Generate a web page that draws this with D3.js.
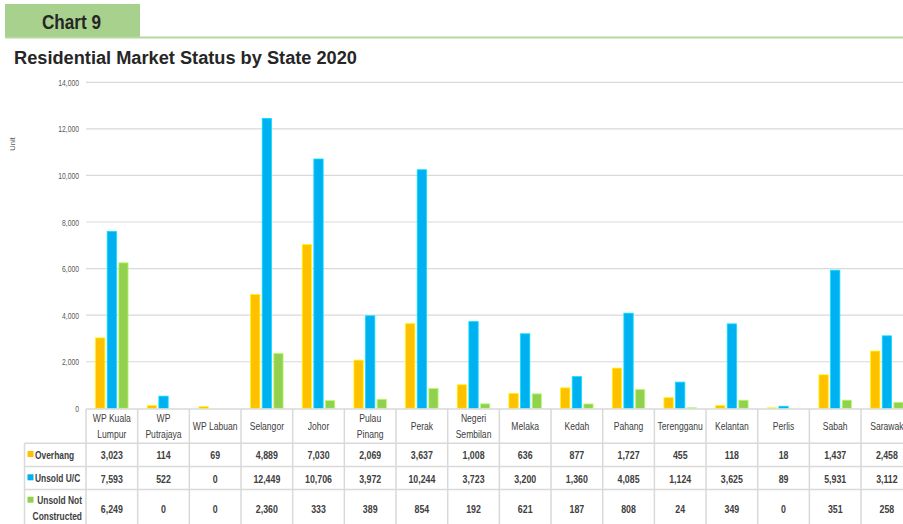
<!DOCTYPE html>
<html>
<head>
<meta charset="utf-8">
<script src="https://cdn.jsdelivr.net/npm/d3@7"></script>
<style>
  html, body { margin: 0; padding: 0; background: #fff; }
  svg { display: block; }
  text { font-family: "Liberation Sans", Arial, sans-serif; }
</style>
</head>
<body>
<svg id="chart" width="903" height="524"></svg>
<script>
// Residential market status by state, 2020 (units)
const states = ["WP Kuala Lumpur", "WP Putrajaya", "WP Labuan", "Selangor", "Johor", "Pulau Pinang",
  "Perak", "Negeri Sembilan", "Melaka", "Kedah", "Pahang", "Terengganu", "Kelantan", "Perlis", "Sabah", "Sarawak"];
const stateLines = [["WP Kuala", "Lumpur"], ["WP", "Putrajaya"], ["WP Labuan"], ["Selangor"], ["Johor"],
  ["Pulau", "Pinang"], ["Perak"], ["Negeri", "Sembilan"], ["Melaka"], ["Kedah"], ["Pahang"], ["Terengganu"],
  ["Kelantan"], ["Perlis"], ["Sabah"], ["Sarawak"]];
const overhang = [3023, 114, 69, 4889, 7030, 2069, 3637, 1008, 636, 877, 1727, 455, 118, 18, 1437, 2458];
const unsoldUC = [7593, 522, 0, 12449, 10706, 3972, 10244, 3723, 3200, 1360, 4085, 1124, 3625, 89, 5931, 3112];
const unsoldNotConstructed = [6249, 0, 0, 2360, 333, 389, 854, 192, 621, 187, 808, 24, 349, 0, 351, 258];
const seriesNames = ["Overhang", "Unsold U/C", "Unsold Not Constructed"];
const seriesColors = ["#FFC000", "#00B0F0", "#92D050"];
const yTicks = [0, 2000, 4000, 6000, 8000, 10000, 12000, 14000];

const series = [overhang, unsoldUC, unsoldNotConstructed];
const svg = d3.select("#chart");
const fmt = d3.format(",");

// Condensed text: a text element scaled horizontally around its anchor point
function narrowText(parent, x, y, str, opts) {
  const o = Object.assign({ size: 11, sx: 0.8, anchor: "middle", weight: "normal", fill: "#404040" }, opts);
  return parent.append("text")
    .attr("transform", `translate(${x},${y}) scale(${o.sx},1)`)
    .attr("text-anchor", o.anchor).attr("font-size", o.size)
    .attr("font-weight", o.weight).attr("fill", o.fill).text(str);
}

// Header tab and rule
svg.append("rect").attr("x", 5).attr("y", 4).attr("width", 135).attr("height", 33).attr("fill", "#A9D18E");
svg.append("line").attr("x1", 5).attr("x2", 903).attr("y1", 37.5).attr("y2", 37.5)
  .attr("stroke", "#B5D99C").attr("stroke-width", 2);
svg.append("text").attr("x", 42).attr("y", 29).attr("font-size", 19.5).attr("font-weight", "bold")
  .attr("fill", "#262626").attr("textLength", 59).attr("lengthAdjust", "spacingAndGlyphs").text("Chart 9");
svg.append("text").attr("x", 14).attr("y", 63.5).attr("font-size", 18).attr("font-weight", "bold")
  .attr("fill", "#262626").attr("textLength", 343).attr("lengthAdjust", "spacingAndGlyphs")
  .text("Residential Market Status by State 2020");

// Scales
const colW = 51.67;
const x = d3.scaleBand().domain(states).range([86, 86 + colW * states.length]).padding(0);
const y = d3.scaleLinear().domain([0, 14000]).range([408.3, 82.3]);
const groupW = 32.5;
const xs = d3.scaleBand().domain(seriesNames)
  .range([x.bandwidth() / 2 - groupW / 2, x.bandwidth() / 2 + groupW / 2]).paddingInner(0.2);

// Gridlines and y axis
svg.append("g").selectAll("line").data(yTicks.filter(d => d > 0)).join("line")
  .attr("x1", 86).attr("x2", 903).attr("y1", d => y(d)).attr("y2", d => y(d))
  .attr("stroke", "#D9D9D9").attr("stroke-width", 1.2);
const yAxis = d3.axisLeft(y).tickValues(yTicks).tickFormat(fmt).tickSize(0).tickPadding(7);
const gy = svg.append("g").attr("transform", "translate(86,0)").call(yAxis);
gy.select(".domain").remove();
gy.selectAll(".tick text").each(function () {
  const t = d3.select(this);
  t.attr("x", null).attr("dy", null).attr("y", null)
    .attr("transform", "translate(-7,3) scale(0.8,1)")
    .attr("font-size", 8.5).attr("fill", "#595959").attr("font-family", "Liberation Sans, Arial, sans-serif");
});
narrowText(svg, 0, 0, "Unit", { size: 7.5, sx: 1, fill: "#595959" })
  .attr("transform", "translate(15,144) rotate(-90)");

// Bars
const groups = svg.append("g").selectAll("g").data(states).join("g")
  .attr("transform", d => `translate(${x(d)},0)`);
groups.selectAll("rect").data((d, i) => seriesNames.map((s, k) => ({ s, v: series[k][i], k })))
  .join("rect")
  .attr("x", d => xs(d.s)).attr("width", xs.bandwidth())
  .attr("y", d => y(d.v)).attr("height", d => y(0) - y(d.v))
  .attr("fill", d => seriesColors[d.k])
  .attr("stroke", d => d3.color(seriesColors[d.k]).brighter(0.7))
  .attr("stroke-width", d => d.v > 0 ? 0.8 : 0);

// Data table
const rowTops = [409, 443.3, 466.5, 489.5];
const labelLeft = 24.5;
const tbl = svg.append("g");
const border = "#D9D9D9";
tbl.append("line").attr("x1", 86).attr("x2", 903).attr("y1", rowTops[0]).attr("y2", rowTops[0])
  .attr("stroke", border).attr("stroke-width", 1.5);
[1, 2, 3].forEach(r => {
  tbl.append("line").attr("x1", labelLeft).attr("x2", 903).attr("y1", rowTops[r]).attr("y2", rowTops[r])
    .attr("stroke", border).attr("stroke-width", 1.5);
});
tbl.append("line").attr("x1", labelLeft).attr("x2", labelLeft).attr("y1", rowTops[1]).attr("y2", 524)
  .attr("stroke", border).attr("stroke-width", 1.5);
tbl.selectAll("line.v").data(states).join("line").attr("class", "v")
  .attr("x1", d => x(d)).attr("x2", d => x(d)).attr("y1", rowTops[0]).attr("y2", 524)
  .attr("stroke", border).attr("stroke-width", 1.5);

// Column headers
states.forEach((d, i) => {
  const lines = stateLines[i];
  const cx = x(d) + x.bandwidth() / 2;
  if (lines.length === 1) {
    narrowText(tbl, cx, 429.5, lines[0], { size: 11, sx: 0.78 });
  } else {
    narrowText(tbl, cx, 422, lines[0], { size: 11, sx: 0.78 });
    narrowText(tbl, cx, 437.5, lines[1], { size: 11, sx: 0.78 });
  }
});

// Row labels with colour keys, then values
const valueBase = [459, 482.5, 512.5];
const keyTop = [451, 474.3, 496.7];
tbl.selectAll("rect.key").data(seriesColors).join("rect").attr("class", "key")
  .attr("x", 27.5).attr("y", (d, k) => keyTop[k]).attr("width", 6).attr("height", 6).attr("fill", d => d);
narrowText(tbl, 35, 458.5, "Overhang", { size: 10.5, sx: 0.8, anchor: "start", weight: "bold" });
narrowText(tbl, 35, 482.3, "Unsold U/C", { size: 10.5, sx: 0.8, anchor: "start", weight: "bold" });
narrowText(tbl, 82, 503.5, "Unsold Not", { size: 10.5, sx: 0.8, anchor: "end", weight: "bold" });
narrowText(tbl, 82, 520, "Constructed", { size: 10.5, sx: 0.8, anchor: "end", weight: "bold" });

series.forEach((vals, k) => {
  states.forEach((d, i) => {
    narrowText(tbl, x(d) + x.bandwidth() / 2, valueBase[k], fmt(vals[i]),
      { size: 11, sx: 0.8, weight: "bold" });
  });
});
</script>
</body>
</html>
